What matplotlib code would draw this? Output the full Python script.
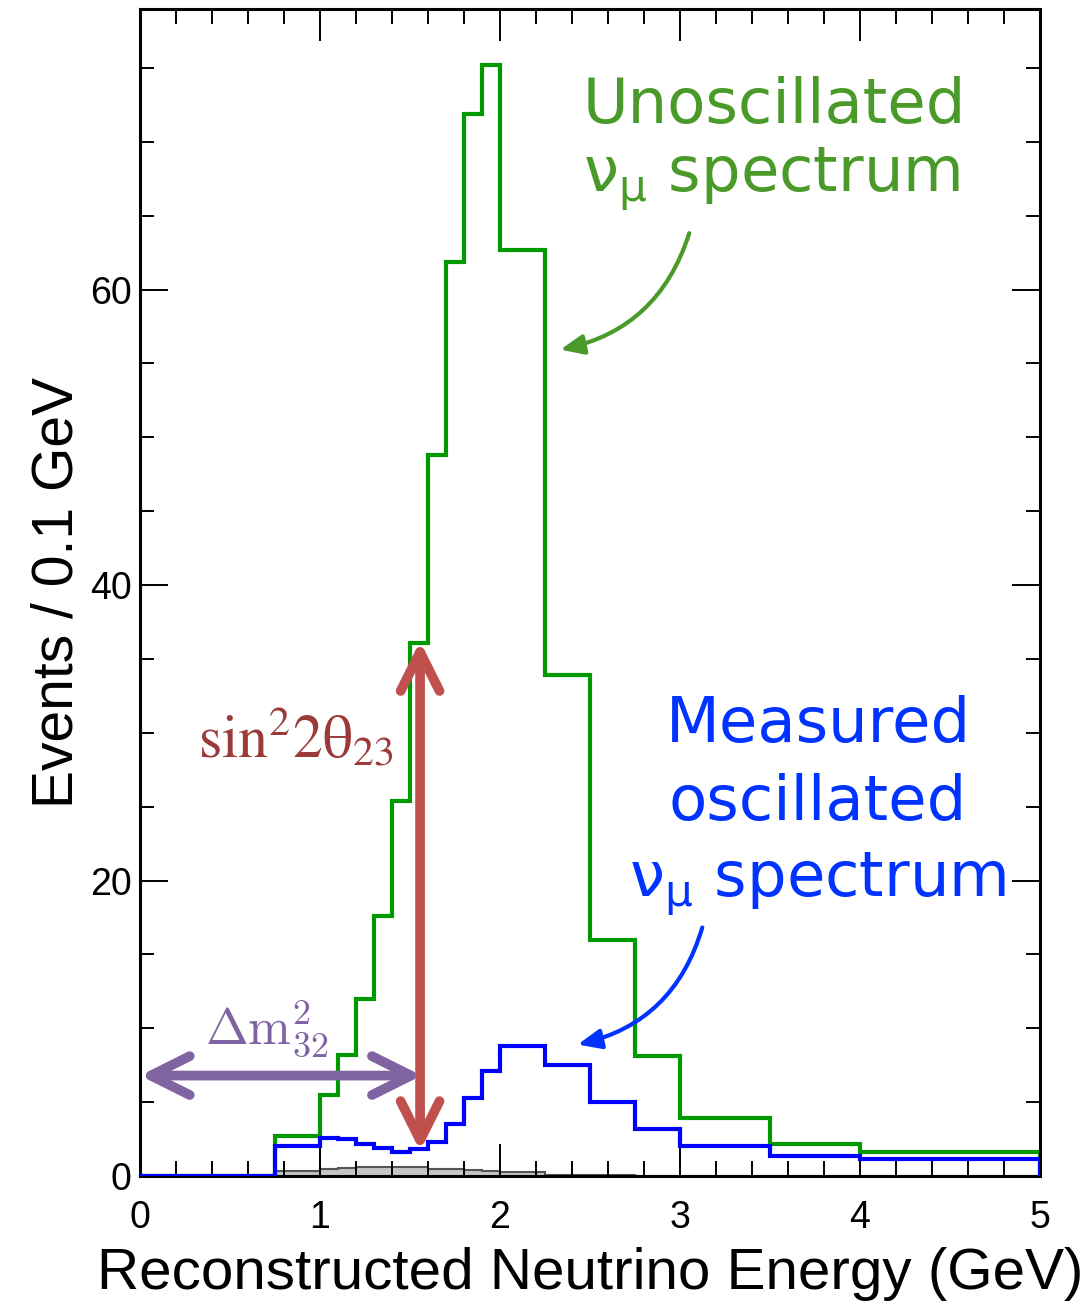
import matplotlib.pyplot as plt
from matplotlib.patches import FancyArrowPatch
from matplotlib.ticker import MultipleLocator
import numpy as np

# binning: coarse below 1 GeV, 0.1 GeV in the peak, coarser in the tail
edges = [0, 0.25, 0.5, 0.75, 1.0, 1.1, 1.2, 1.3, 1.4, 1.5, 1.6, 1.7, 1.8, 1.9, 2.0,
         2.25, 2.5, 2.75, 3.0, 3.5, 4.0, 5.0]
unosc = [0, 0, 0, 2.7, 5.5, 8.2, 12.0, 17.6, 25.4, 36.1, 48.8, 61.9, 71.9, 75.2,
         62.7, 33.9, 16.0, 8.1, 3.9, 2.2, 1.6]
measured = [0, 0, 0, 2.0, 2.6, 2.5, 2.2, 1.9, 1.65, 1.8, 2.3, 3.5, 5.3, 7.1,
            8.8, 7.5, 5.0, 3.2, 2.0, 1.35, 1.15]
background = [0, 0, 0, 0.35, 0.45, 0.55, 0.6, 0.62, 0.62, 0.58, 0.5, 0.45, 0.4, 0.35,
              0.25, 0.1, 0.05, 0.02, 0, 0, 0]

plt.rcParams['font.family'] = ['Liberation Sans', 'DejaVu Sans']

fig = plt.figure(figsize=(10.91, 13.07), dpi=100)
ax = fig.add_axes([0.1283, 0.1002, 0.825, 0.893])

ax.stairs(background, edges, fill=True, color='#c4c4c4', zorder=1)
ax.stairs(background, edges, color='#555555', lw=1.5, zorder=1.5)
ax.stairs(unosc, edges, color='#009a00', lw=3, zorder=2)
ax.stairs(measured, edges, color='#0000ff', lw=3, zorder=3)

ax.set_xlim(0, 5)
ax.set_ylim(0, 79)
ax.xaxis.set_major_locator(MultipleLocator(1))
ax.xaxis.set_minor_locator(MultipleLocator(0.2))
ax.yaxis.set_major_locator(MultipleLocator(20))
ax.yaxis.set_minor_locator(MultipleLocator(5))
ax.tick_params(axis='x', which='major', direction='in', top=True, length=23, width=1.4,
               labelsize=27, pad=17)
ax.tick_params(axis='x', which='minor', direction='in', top=True, length=11, width=1.4)
ax.tick_params(axis='y', which='major', direction='in', right=True, length=20, width=1.4,
               labelsize=27, pad=6)
ax.tick_params(axis='y', which='minor', direction='in', right=True, length=10, width=1.4)
for s in ax.spines.values():
    s.set_linewidth(2.2)

ax.set_xlabel('Reconstructed Neutrino Energy (GeV)', fontsize=42, labelpad=8)
ax.set_ylabel('Events / 0.1 GeV', fontsize=41, labelpad=4)

# annotations
green_txt = '#4a9a2a'
blue_txt = '#0033ff'
nu_mu = r'ν$_{\mathrm{μ}}$ spectrum'
ax.text(2.461, 71.25, 'Unoscillated', color=green_txt, fontsize=45,
        family='DejaVu Sans', ha='left', va='baseline')
ax.text(2.461, 66.6, nu_mu, color=green_txt, fontsize=45,
        family='DejaVu Sans', ha='left', va='baseline')

ax.text(3.767, 29.36, 'Measured', color=blue_txt, fontsize=45,
        family='DejaVu Sans', ha='center', va='baseline')
ax.text(3.767, 24.09, 'oscillated', color=blue_txt, fontsize=45,
        family='DejaVu Sans', ha='center', va='baseline')
ax.text(3.767, 18.88, nu_mu, color=blue_txt, fontsize=45,
        family='DejaVu Sans', ha='center', va='baseline')

ax.text(0.322, 28.35, r'$\mathrm{sin^{2}2θ_{23}}$', color='#9c3a3a', fontsize=43,
        math_fontfamily='stix', ha='left', va='baseline')
ax.text(0.361, 9.0, r'$\Delta\mathrm{m}^{2}_{32}$', color='#7f63a3', fontsize=37,
        math_fontfamily='cm', ha='left', va='baseline')

# curved pointers to the two spectra
ax.add_patch(FancyArrowPatch((3.056, 64.0), (2.32, 55.9),
                             connectionstyle='arc3,rad=-0.3',
                             arrowstyle='-|>,head_length=0.7,head_width=0.3',
                             mutation_scale=20, color='#4a9a2a', lw=3, zorder=5))
ax.add_patch(FancyArrowPatch((3.128, 17.0), (2.417, 8.86),
                             connectionstyle='arc3,rad=-0.3',
                             arrowstyle='-|>,head_length=0.7,head_width=0.3',
                             mutation_scale=20, color='#0033ff', lw=3, zorder=5))

# double arrows for amplitude and position of the dip
ax.add_patch(FancyArrowPatch((1.556, 1.7), (1.556, 36.2),
                             arrowstyle='<->,head_length=1.4,head_width=0.7',
                             mutation_scale=20, color='#c0504d', lw=7,
                             capstyle='round', joinstyle='round',
                             shrinkA=0, shrinkB=0, zorder=6))
ax.add_patch(FancyArrowPatch((0.0, 6.8), (1.565, 6.8),
                             arrowstyle='<->,head_length=1.4,head_width=0.7',
                             mutation_scale=20, color='#8064a2', lw=7,
                             capstyle='round', joinstyle='round',
                             shrinkA=0, shrinkB=0, zorder=6))

fig.savefig('out.png', dpi=100)
